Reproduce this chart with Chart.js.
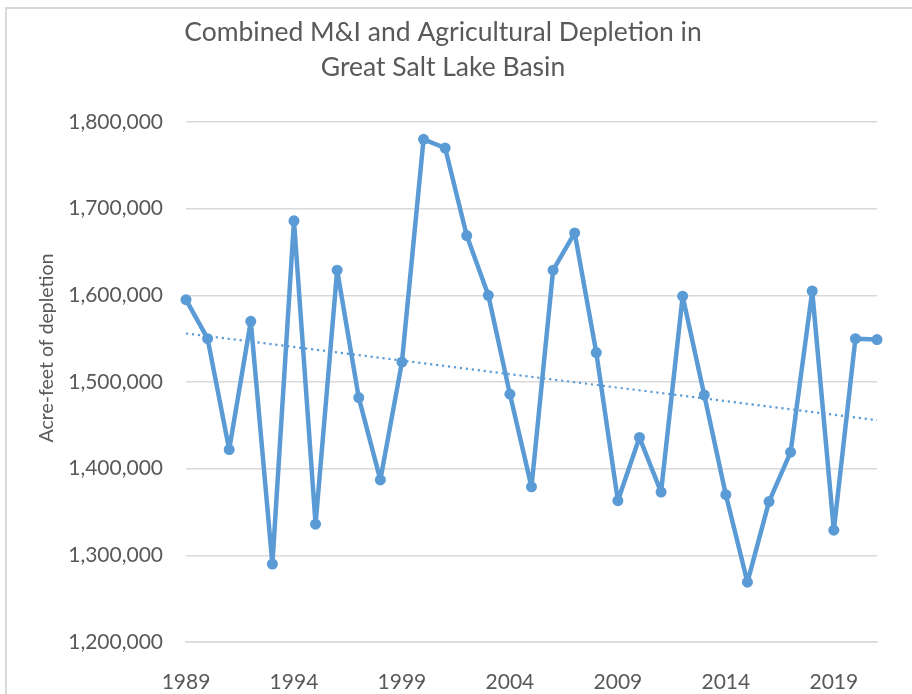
<!DOCTYPE html>
<html>
<head>
<meta charset="utf-8">
<script src="https://cdn.jsdelivr.net/npm/chart.js@4.4.1/dist/chart.umd.min.js"></script>
<style>
  html, body { margin: 0; padding: 0; background: #fff; }
  #wrap { position: relative; width: 912px; height: 694px; }
  #frame { position: absolute; left: 5px; top: 7px; right: -10px; bottom: -10px;
           border-left: 2px solid #d9d9d9; border-top: 2px solid #d9d9d9; }
  canvas { position: absolute; left: 0; top: 0; }
</style>
</head>
<body>
<div id="wrap">
  <div id="frame"></div>
  <canvas id="chartCanvas" width="912" height="694"></canvas>
</div>
<script>
var years = ['1989', '1990', '1991', '1992', '1993', '1994', '1995', '1996', '1997', '1998',
             '1999', '2000', '2001', '2002', '2003', '2004', '2005', '2006', '2007', '2008',
             '2009', '2010', '2011', '2012', '2013', '2014', '2015', '2016', '2017', '2018',
             '2019', '2020', '2021'];
var depletion = [1595000, 1550000, 1422000, 1570000, 1290000, 1686000, 1336000, 1629000, 1482000, 1387000,
                 1523000, 1780000, 1770000, 1669000, 1600000, 1486000, 1379000, 1629000, 1672000, 1534000,
                 1363000, 1436000, 1373000, 1599000, 1485000, 1370000, 1269000, 1362000, 1419000, 1605000,
                 1329000, 1550000, 1549000];
// linear trend line, ends
var trendYears = ['1989', '2021'];
var trendValues = [1556000, 1456000];

var titleLines = ['Combined M&I and Agricultural Depletion in', 'Great Salt Lake Basin'];
var yTitle = 'Acre-feet of depletion';

var textColor = '#595959';
var blue = '#5b9bd5';

// title and rotated axis title, drawn at their places
var textPlugin = {
    id: 'texts',
    afterDraw: function (chart) {
        var ctx = chart.ctx;
        ctx.save();
        ctx.fillStyle = textColor;
        ctx.textAlign = 'center';
        ctx.textBaseline = 'middle';
        ctx.font = '26.5px Lato';
        ctx.fillText(titleLines[0], 443, 32);
        ctx.fillText(titleLines[1], 443, 67);
        ctx.translate(47, 348);
        ctx.rotate(-Math.PI / 2);
        ctx.font = '19.5px Lato';
        ctx.fillText(yTitle, 0, 0);
        ctx.restore();
    }
};

var chart = new Chart('chartCanvas', {
    type: 'line',
    data: {
        labels: years,
        datasets: [
            {
                label: 'Depletion',
                data: depletion,
                borderColor: blue,
                backgroundColor: blue,
                borderWidth: 4.5,
                borderJoinStyle: 'round',
                borderCapStyle: 'round',
                pointRadius: 5.5,
                pointBorderWidth: 0,
                pointBackgroundColor: blue,
                tension: 0
            },
            {
                label: 'Trend',
                data: trendYears.map(function (y, i) { return { x: y, y: trendValues[i] }; }),
                borderColor: blue,
                borderWidth: 2.2,
                borderDash: [2.2, 3.8],
                pointRadius: 0,
                tension: 0
            }
        ]
    },
    options: {
        responsive: false,
        animation: false,
        clip: false,
        layout: { padding: { left: 0, top: 122, right: 35, bottom: 0 } },
        plugins: {
            legend: { display: false },
            title: { display: false },
            tooltip: { enabled: false }
        },
        scales: {
            x: {
                type: 'category',
                offset: false,
                grid: { display: false },
                border: { display: true, color: '#d9d9d9', width: 1.5 },
                ticks: {
                    autoSkip: false,
                    maxRotation: 0,
                    padding: 20,
                    color: textColor,
                    font: { family: 'Lato', size: 21 },
                    callback: function (value, index) {
                        return index % 5 === 0 ? years[index] : '';
                    }
                },
                afterFit: function (scale) { scale.height = 52; }
            },
            y: {
                min: 1200000,
                max: 1800000,
                grid: { color: '#d9d9d9', lineWidth: 1.5, drawTicks: false },
                border: { display: false },
                ticks: {
                    stepSize: 100000,
                    padding: 23,
                    color: textColor,
                    font: { family: 'Lato', size: 21 },
                    callback: function (value) { return value.toLocaleString('en-US'); }
                },
                afterFit: function (scale) { scale.width = 186; }
            }
        }
    },
    plugins: [textPlugin]
});
</script>
</body>
</html>
